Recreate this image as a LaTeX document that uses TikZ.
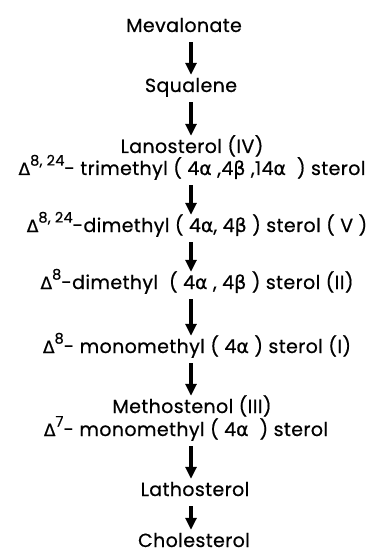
\documentclass[tikz,border=0pt]{standalone}
\usepackage{fontspec}
\setmainfont{Poppins}[LetterSpace=2,FakeBold=0.6]
\newfontfamily\grk{DejaVu Sans}[FakeBold=0.6]
\usetikzlibrary{arrows.meta}

\newcommand\dlt[1]{{\grk\fontsize{17}{17}\selectfont Δ}\raisebox{0.5em}{\fontsize{14.5}{15}\selectfont #1}}
\newcommand\gk[1]{{\grk #1}}

\begin{document}
\begin{tikzpicture}[x=1pt,y=-1pt,font=\fontsize{19}{22}\selectfont,
    cpd/.style={anchor=base,inner sep=0pt,text height=17pt,text depth=10pt},
    arr/.style={line width=3.2pt,-{Triangle[length=12pt,width=11pt]}}]
    \useasboundingbox (0,0) rectangle (380,553);
    \coordinate (ax) at (191,0);
    \node[cpd] (mev) at (184,32) {Mevalonate};
    \node[cpd] (squ) at (191,92) {Squalene};
    \node[cpd] (lan) at (192,153) {Lanosterol (IV)};
    \node[cpd] (tri) at (192,175) {\dlt{8, 24}- trimethyl ( 4\gk{α} ,4\gk{β} ,14\gk{α} \ ) sterol};
    \node[cpd] (dimv) at (197,232) {\dlt{8, 24}-dimethyl ( 4\gk{α}, 4\gk{β} ) sterol ( V )};
    \node[cpd] (dimii) at (197,289) {\dlt{8}-dimethyl \ ( 4\gk{α} , 4\gk{β} ) sterol (II)};
    \node[cpd] (mono) at (197,353) {\dlt{8}- monomethyl ( 4\gk{α} ) sterol (I)};
    \node[cpd] (meth) at (192,413) {Methostenol (III)};
    \node[cpd] (monosev) at (186,436) {\dlt{7}- monomethyl ( 4\gk{α} \ ) sterol};
    \node[cpd] (lath) at (195,496) {Lathosterol};
    \node[cpd] (chol) at (194,547) {Cholesterol};
    \foreach \a/\b in {mev/squ,squ/lan,tri/dimv,dimv/dimii,dimii/mono,mono/meth,monosev/lath,lath/chol}
      \draw[arr] (\a.south -| ax) -- (\b.north -| ax);
\end{tikzpicture}
\end{document}
